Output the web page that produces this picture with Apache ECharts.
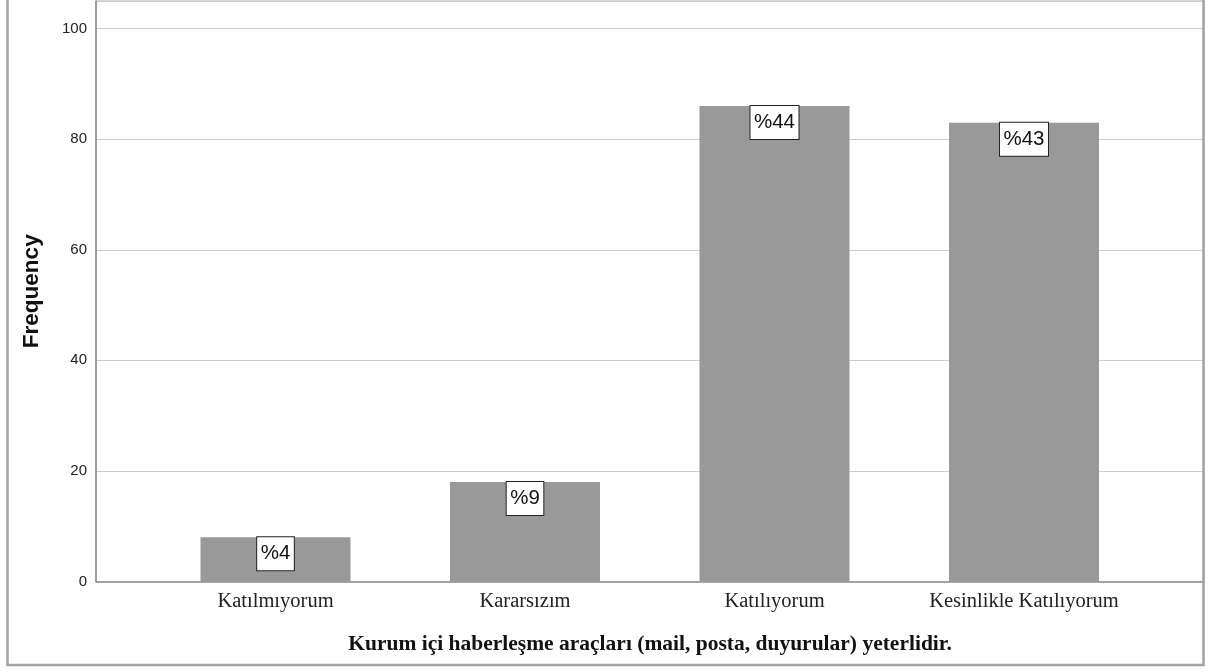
<!DOCTYPE html>
<html>
<head>
<meta charset="utf-8">
<script src="https://cdn.jsdelivr.net/npm/echarts@6/dist/echarts.min.js"></script>
<style>html,body{margin:0;padding:0;background:#fff}#c{width:1208px;height:672px}</style>
</head>
<body>
<div id="c"></div>
<script>
var categories = ['Katılmıyorum', 'Kararsızım', 'Katılıyorum', 'Kesinlikle Katılıyorum'];
var frequencies = [8, 18, 86, 83];
var percentLabels = ['%4', '%9', '%44', '%43'];
var yTicks = [0, 20, 40, 60, 80, 100];
var xTitle = 'Kurum içi haberleşme araçları (mail, posta, duyurular) yeterlidir.';
var yTitle = 'Frequency';

var chart = echarts.init(document.getElementById('c'), null, {renderer: 'canvas'});
var option = {
  animation: false,
  backgroundColor: '#fff',
  graphic: [{
    type: 'rect', z: 100, silent: true,
    shape: {x: 7.5, y: -3, width: 1196, height: 668},
    style: {fill: 'none', stroke: '#a3a3a3', lineWidth: 2.5}
  }],
  grid: [
    {left: 96, right: 4, top: 1, height: 580.5, show: true, borderColor: '#b0b0b0', borderWidth: 1, backgroundColor: 'transparent'},
    {left: 150.75, width: 998, top: 1, height: 580.5}
  ],
  xAxis: [
    {gridIndex: 0, type: 'value', min: 0, max: 1, show: true,
     axisLine: {show: true, onZero: false, lineStyle: {color: '#8a8a8a', width: 1.5}},
     axisTick: {show: false}, axisLabel: {show: false}, splitLine: {show: false},
     name: xTitle, nameLocation: 'middle', nameGap: 52,
     nameTextStyle: {fontFamily: 'Liberation Serif', fontWeight: 'bold', fontSize: 21.5, color: '#111'}},
    {gridIndex: 1, type: 'category', data: categories, boundaryGap: true,
     axisLine: {show: false}, axisTick: {show: false},
     axisLabel: {fontFamily: 'Liberation Serif', fontSize: 20.5, color: '#222', margin: 10}}
  ],
  yAxis: [
    {gridIndex: 0, type: 'value', min: 0, max: 105, interval: 20,
     axisLine: {show: true, lineStyle: {color: '#8a8a8a', width: 1.5}},
     axisTick: {show: false},
     axisLabel: {fontFamily: 'Liberation Sans', fontSize: 15, color: '#222', margin: 9,
       formatter: function (v) { return yTicks.indexOf(v) >= 0 ? String(v) : ''; }},
     splitLine: {show: true, lineStyle: {color: '#cdcdcd', width: 1.2}},
     name: yTitle, nameLocation: 'middle', nameGap: 53, nameRotate: 90,
     nameTextStyle: {fontFamily: 'Liberation Sans', fontWeight: 'bold', fontSize: 22.5, color: '#111'}},
    {gridIndex: 1, type: 'value', min: 0, max: 105, show: false, splitLine: {show: false}}
  ],
  series: [{
    type: 'bar', xAxisIndex: 1, yAxisIndex: 1,
    data: frequencies, barWidth: 150,
    itemStyle: {color: '#999999'},
    label: {
      show: true, position: 'insideTop', distance: 0,
      formatter: function (p) { return percentLabels[p.dataIndex]; },
      fontFamily: 'Liberation Sans', fontSize: 20.5, color: '#111', lineHeight: 22,
      backgroundColor: '#fff', borderColor: '#222', borderWidth: 1,
      padding: [5.5, 3.5, 5.5, 3.5]
    }
  }]
};
chart.setOption(option);
</script>
</body>
</html>
